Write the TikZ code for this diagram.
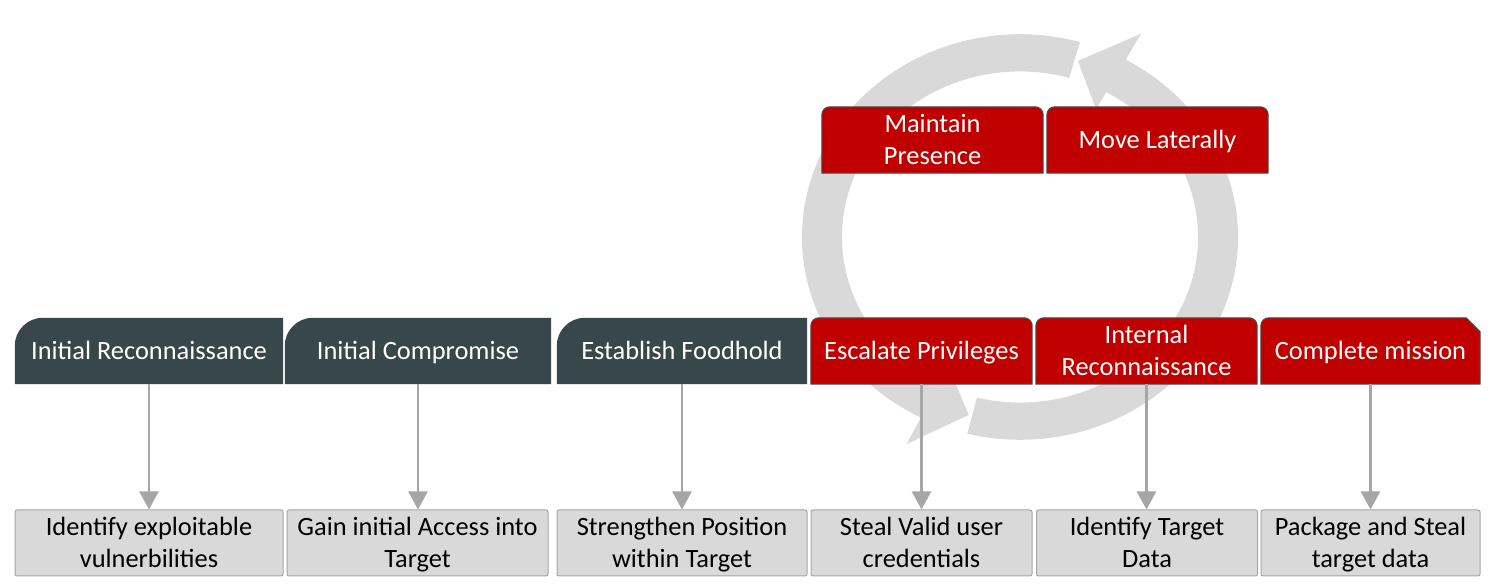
\documentclass[tikz,border=0pt]{standalone}
\usepackage{fontspec}
\setmainfont{Carlito}
\usetikzlibrary{arrows.meta,calc,backgrounds}
\definecolor{slate}{RGB}{55,71,75}
\definecolor{redbox}{RGB}{192,0,0}
\definecolor{ringgray}{RGB}{217,217,217}
\definecolor{boxgray}{RGB}{217,217,217}
\definecolor{edgegray}{RGB}{166,166,166}
\definecolor{arrowgray}{RGB}{166,166,166}
\definecolor{rededge}{RGB}{75,75,75}
\newcommand{\lstrut}{\vrule height 25pt depth 7pt width 0pt\relax}
\newcommand{\darkshapeof}[1]{%
  \fill[slate] (#1.south west) -- ([yshift=-28pt]#1.north west)
    arc[start angle=180,end angle=90,radius=28pt] -- (#1.north east)
    -- (#1.south east) -- cycle;}
\newcommand{\redshapeof}[1]{%
  \draw[fill=redbox,draw=rededge,line width=1pt] (#1.south west) -- ([yshift=-8pt]#1.north west)
    arc[start angle=180,end angle=90,radius=8pt] -- ([xshift=-8pt]#1.north east)
    arc[start angle=90,end angle=0,radius=8pt] -- (#1.south east) -- cycle;}
\newcommand{\snipshapeof}[1]{%
  \draw[fill=redbox,draw=rededge,line width=1pt] (#1.south west) -- ([yshift=-8pt]#1.north west)
    arc[start angle=180,end angle=90,radius=8pt] -- ([xshift=-14pt]#1.north east)
    -- ([yshift=-14pt]#1.north east) -- (#1.south east) -- cycle;}
\begin{document}
\begin{tikzpicture}[x=1pt,y=1pt,
  lbl/.style={minimum height=66pt, inner sep=0pt, align=center, font=\fontsize{26.4}{32}\selectfont},
  toplbl/.style={lbl, text=white},
  botlbl/.style={lbl, text=black, fill=boxgray, draw=edgegray, line width=1pt, rounded corners=2pt},
  link/.style={draw=arrowgray, line width=2.5pt, -{Triangle[width=19pt,length=18pt]}},
  ringfill/.style={fill=ringgray}]
\useasboundingbox (0,0) rectangle (1491,585);

% top row
\node[toplbl, minimum width=268pt] (t1) at (149,234) {Initial Reconnaissance\lstrut};
\node[toplbl, minimum width=266pt] (t2) at (418,234) {Initial Compromise\lstrut};
\node[toplbl, minimum width=250pt] (t3) at (682,234) {Establish Foodhold\lstrut};
\node[toplbl, minimum width=221pt] (t4) at (921.5,234) {Escalate Privileges\lstrut};
\node[toplbl, minimum width=221pt] (t5) at (1146.5,234) {Internal\lstrut\\Reconnaissance\lstrut};
\node[toplbl, minimum width=219pt] (t6) at (1370.5,234) {Complete mission\lstrut};
% upper red row
\node[toplbl, minimum width=221pt] (u1) at (932.5,445) {Maintain\lstrut\\Presence\lstrut};
\node[toplbl, minimum width=221pt] (u2) at (1157.5,445) {Move Laterally\lstrut};
% bottom row
\node[botlbl, minimum width=268pt] (b1) at (149,42) {Identify exploitable\lstrut\\vulnerbilities\lstrut};
\node[botlbl, minimum width=261pt] (b2) at (417.5,42) {Gain initial Access into\lstrut\\Target\lstrut};
\node[botlbl, minimum width=250pt] (b3) at (682,42) {Strengthen Position\lstrut\\within Target\lstrut};
\node[botlbl, minimum width=221pt] (b4) at (921.5,42) {Steal Valid user\lstrut\\credentials\lstrut};
\node[botlbl, minimum width=221pt] (b5) at (1147,42) {Identify Target\lstrut\\Data\lstrut};
\node[botlbl, minimum width=219pt] (b6) at (1370.5,42) {Package and Steal\lstrut\\target data\lstrut};

% connectors
\foreach \i in {1,...,6}{
  \draw[link] (t\i.south) -- (t\i.south |- b\i.north);
}

\begin{scope}[on background layer]
  % cycle ring
  \begin{scope}[shift={(1020,348)}, yscale=0.93]
    \fill[ringfill] (-104:218pt) arc[start angle=-104,end angle=61,radius=218pt]
      -- (61:250pt) -- (73:198pt) -- (61:157pt) -- (61:178pt)
      arc[start angle=61,end angle=-104,radius=178pt] -- cycle;
    \fill[ringfill] (74:218pt) arc[start angle=74,end angle=243,radius=218pt]
      -- (243:250pt) -- (255:198pt) -- (243:157pt) -- (243:178pt)
      arc[start angle=243,end angle=74,radius=178pt] -- cycle;
  \end{scope}
  \darkshapeof{t1}
  \darkshapeof{t2}
  \darkshapeof{t3}
  \redshapeof{t4}
  \redshapeof{t5}
  \snipshapeof{t6}
  \redshapeof{u1}
  \redshapeof{u2}
\end{scope}
\end{tikzpicture}
\end{document}
